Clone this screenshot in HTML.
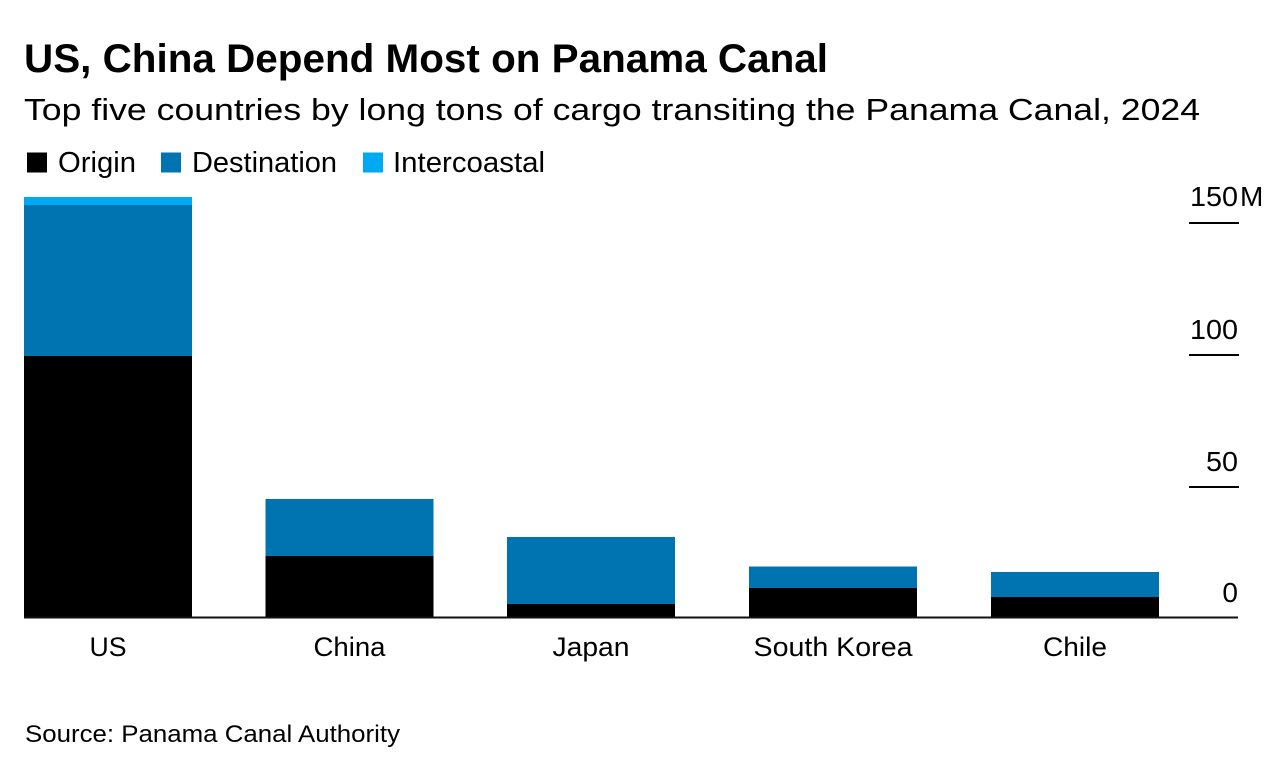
<!DOCTYPE html>
<html>
<head>
<meta charset="utf-8">
<style>
  html, body { margin: 0; padding: 0; background: #ffffff; }
  svg { display: block; }
  text { font-family: "Liberation Sans", Arial, sans-serif; fill: #000; }
</style>
</head>
<body>
<svg width="1280" height="766" viewBox="0 0 1280 766" xmlns="http://www.w3.org/2000/svg">
  <rect x="0" y="0" width="1280" height="766" fill="#ffffff"/>

  <!-- Title & subtitle -->
  <text x="24" y="72" font-size="40" font-weight="bold" textLength="804" lengthAdjust="spacingAndGlyphs">US, China Depend Most on Panama Canal</text>
  <text x="24" y="120" font-size="31" textLength="1176" lengthAdjust="spacingAndGlyphs">Top five countries by long tons of cargo transiting the Panama Canal, 2024</text>

  <!-- Legend -->
  <rect x="27" y="152.5" width="20" height="20" fill="#000000"/>
  <text x="58" y="172" font-size="29" textLength="78" lengthAdjust="spacingAndGlyphs">Origin</text>
  <rect x="161" y="152.5" width="20" height="20" fill="#0074b1"/>
  <text x="192" y="172" font-size="29" textLength="145" lengthAdjust="spacingAndGlyphs">Destination</text>
  <rect x="363" y="152.5" width="20" height="20" fill="#00aaf2"/>
  <text x="393" y="172" font-size="29" textLength="152" lengthAdjust="spacingAndGlyphs">Intercoastal</text>

  <!-- Y axis ticks -->
  <line x1="1189" y1="223" x2="1239" y2="223" stroke="#000" stroke-width="2"/>
  <line x1="1189" y1="355" x2="1239" y2="355" stroke="#000" stroke-width="2"/>
  <line x1="1189" y1="487" x2="1239" y2="487" stroke="#000" stroke-width="2"/>

  <text x="1190" y="206" font-size="28" textLength="48" lengthAdjust="spacingAndGlyphs">150</text>
  <text x="1240" y="206" font-size="28">M</text>
  <text x="1190" y="339" font-size="28" textLength="48" lengthAdjust="spacingAndGlyphs">100</text>
  <text x="1206" y="471" font-size="28" textLength="32" lengthAdjust="spacingAndGlyphs">50</text>
  <text x="1238" y="602" font-size="28" text-anchor="end">0</text>

  <!-- Bars -->
  <!-- US -->
  <rect x="24" y="197" width="168" height="8" fill="#00aaf2"/>
  <rect x="24" y="205" width="168" height="151" fill="#0074b1"/>
  <rect x="24" y="356" width="168" height="261.5" fill="#000000"/>
  <!-- China -->
  <rect x="265.5" y="499" width="168" height="57" fill="#0074b1"/>
  <rect x="265.5" y="556" width="168" height="61.5" fill="#000000"/>
  <!-- Japan -->
  <rect x="507" y="537" width="168" height="67" fill="#0074b1"/>
  <rect x="507" y="604" width="168" height="13.5" fill="#000000"/>
  <!-- South Korea -->
  <rect x="749" y="566.5" width="168" height="21.5" fill="#0074b1"/>
  <rect x="749" y="588" width="168" height="29.5" fill="#000000"/>
  <!-- Chile -->
  <rect x="991" y="572" width="168" height="25" fill="#0074b1"/>
  <rect x="991" y="597" width="168" height="20.5" fill="#000000"/>

  <!-- Baseline -->
  <line x1="24" y1="617.5" x2="1238" y2="617.5" stroke="#111" stroke-width="2"/>

  <!-- Category labels -->
  <text x="108" y="656" font-size="27" text-anchor="middle" textLength="37" lengthAdjust="spacingAndGlyphs">US</text>
  <text x="349.5" y="656" font-size="27" text-anchor="middle" textLength="72" lengthAdjust="spacingAndGlyphs">China</text>
  <text x="591" y="656" font-size="27" text-anchor="middle" textLength="77" lengthAdjust="spacingAndGlyphs">Japan</text>
  <text x="833" y="656" font-size="27" text-anchor="middle" textLength="159" lengthAdjust="spacingAndGlyphs">South Korea</text>
  <text x="1075" y="656" font-size="27" text-anchor="middle" textLength="64" lengthAdjust="spacingAndGlyphs">Chile</text>

  <!-- Source -->
  <text x="25" y="742" font-size="24" textLength="375" lengthAdjust="spacingAndGlyphs">Source: Panama Canal Authority</text>
</svg>
</body>
</html>
